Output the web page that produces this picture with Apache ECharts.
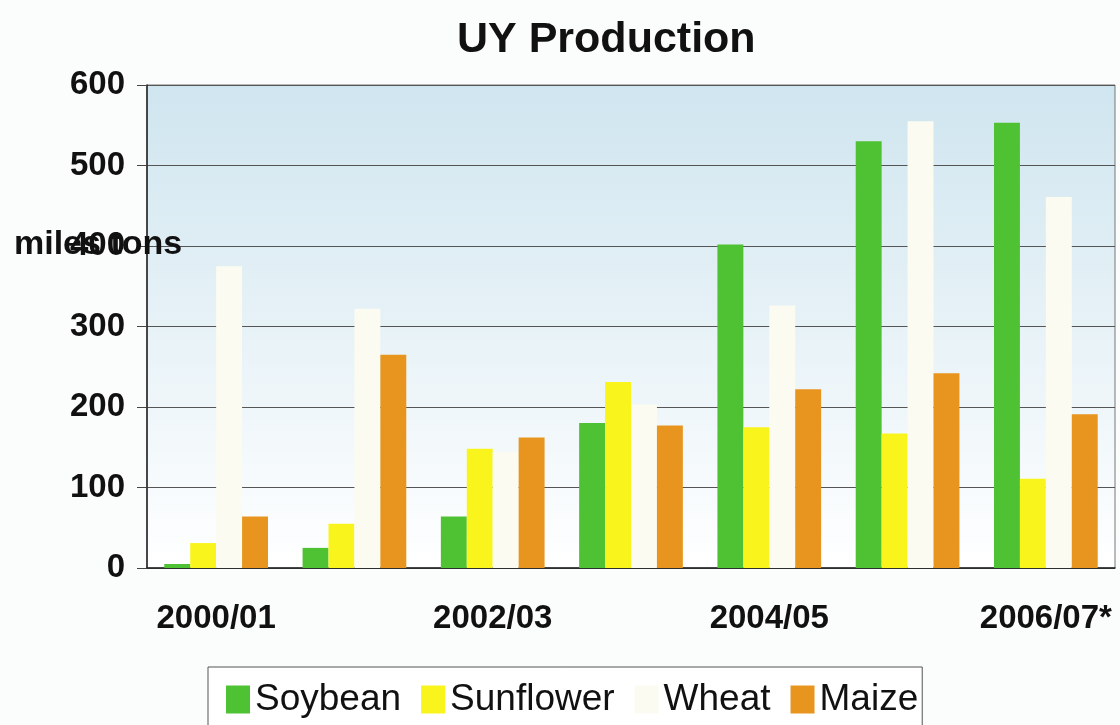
<!DOCTYPE html>
<html>
<head>
<meta charset="utf-8">
<script src="https://cdn.jsdelivr.net/npm/echarts@6/dist/echarts.min.js"></script>
<style>
html,body{margin:0;padding:0;background:#fbfcfc;}
#c{width:1120px;height:725px;}
</style>
</head>
<body>
<div id="c"></div>
<script>
var categories = ['2000/01', '2001/02', '2002/03', '2003/04', '2004/05', '2005/06', '2006/07*'];
var soybean = [5, 25, 64, 180, 402, 530, 553];
var sunflower = [31, 55, 148, 231, 175, 167, 111];
var wheat = [375, 322, 144, 203, 326, 555, 461];
var maize = [64, 265, 162, 177, 222, 242, 191];
var yTicks = [0, 100, 200, 300, 400, 500, 600];

var chart = echarts.init(document.getElementById('c'));
var font = 'Liberation Sans, Arial, sans-serif';
function bar(name, data, color) {
  return { name: name, type: 'bar', data: data, barGap: '0%', barCategoryGap: '25%',
    itemStyle: { color: color }, z: 3 };
}
chart.setOption({
  backgroundColor: '#fbfcfc',
  animation: false,
  title: { text: 'UY Production', left: 452, top: 14,
    textStyle: { fontFamily: font, fontSize: 43, fontWeight: 'bold', color: '#111' } },
  grid: { left: 147, right: 5, top: 85, bottom: 157, show: true,
    borderColor: '#777', borderWidth: 1,
    backgroundColor: new echarts.graphic.LinearGradient(0, 0, 0, 1, [
      { offset: 0, color: '#cfe5ef' }, { offset: 1, color: '#ffffff' }]) },
  legend: {
    left: 208, top: 667, orient: 'horizontal', icon: 'rect',
    padding: [14, 4, 20, 18], itemGap: 20, itemWidth: 24, itemHeight: 28,
    borderColor: '#555', borderWidth: 1, backgroundColor: '#fff',
    textStyle: { fontFamily: font, fontSize: 37, color: '#111' },
    data: ['Soybean', 'Sunflower', 'Wheat', 'Maize']
  },
  xAxis: {
    type: 'category', data: categories,
    axisLine: { lineStyle: { color: '#222', width: 1.5 } },
    axisTick: { show: false },
    axisLabel: { interval: 1, margin: 34, fontFamily: font, fontSize: 33, fontWeight: 'bold', color: '#111' }
  },
  yAxis: {
    type: 'value', min: yTicks[0], max: yTicks[yTicks.length - 1], interval: 100,
    axisLine: { show: true, lineStyle: { color: '#222', width: 1.5 } },
    axisTick: { show: true, length: 10, lineStyle: { color: '#444' } },
    splitLine: { lineStyle: { color: '#555', width: 1 } },
    axisLabel: { margin: 22, fontFamily: font, fontSize: 33, fontWeight: 'bold', color: '#111' }
  },
  graphic: [{ type: 'text', left: 14, top: 228, z: 10,
    style: { text: 'miles tons', font: 'bold 34px ' + font, fill: '#111' } }],
  series: [
    bar('Soybean', soybean, '#4ec232'),
    bar('Sunflower', sunflower, '#f9f51c'),
    bar('Wheat', wheat, '#fcfbf2'),
    bar('Maize', maize, '#e8951f')
  ]
});
</script>
</body>
</html>
